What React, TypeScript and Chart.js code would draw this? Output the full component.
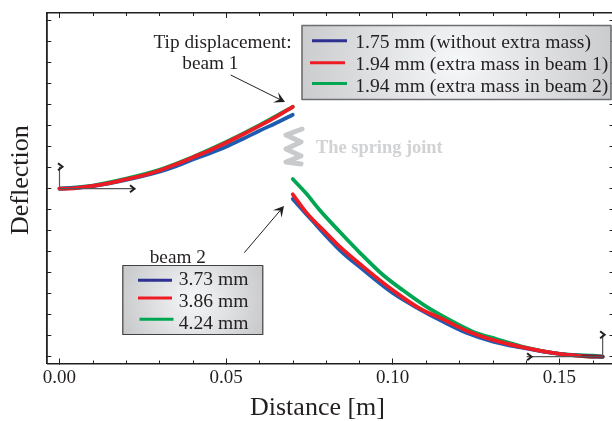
import React, { useEffect, useRef } from "react";
import { Chart, registerables } from "chart.js";

Chart.register(...registerables);

// Distance [m] / deflection (axis tick units)
const beam1RedX = [0, 0.005, 0.01, 0.015, 0.02, 0.025, 0.03, 0.035, 0.04, 0.045, 0.05, 0.055, 0.06, 0.065, 0.07];
const beam1RedY = [0, 0.03, 0.13, 0.27, 0.45, 0.63, 0.87, 1.16, 1.49, 1.82, 2.19, 2.58, 2.99, 3.42, 3.9];
const beam1BlueX = [0, 0.01, 0.02, 0.03, 0.035, 0.04, 0.045, 0.05, 0.055, 0.06, 0.065, 0.07];
const beam1BlueY = [0, 0.12, 0.42, 0.81, 1.07, 1.39, 1.68, 2.0, 2.37, 2.76, 3.13, 3.52];
const beam1GreenX = [0, 0.01, 0.02, 0.03, 0.04, 0.05, 0.06, 0.07];
const beam1GreenY = [0, 0.15, 0.48, 0.9, 1.51, 2.22, 3.02, 3.9];

const beam2BlueX = [0.07, 0.0752, 0.0841, 0.0906, 0.1001, 0.1081, 0.1151, 0.1221, 0.1301, 0.1381, 0.1501, 0.1601, 0.163];
const beam2BlueY = [-0.49, -1.41, -2.92, -3.79, -4.98, -5.74, -6.33, -6.86, -7.28, -7.55, -7.87, -7.99, -8.0];
const beam2RedX = [0.07, 0.0741, 0.0801, 0.0841, 0.0911, 0.1006, 0.1081, 0.1151, 0.1221, 0.1311, 0.1381, 0.1501, 0.157, 0.1601, 0.163];
const beam2RedY = [-0.27, -1.14, -2.12, -2.76, -3.71, -4.9, -5.7, -6.22, -6.76, -7.25, -7.52, -7.87, -7.97, -8.0, -8.0];
const beam2GreenX = [0.07, 0.074, 0.078, 0.0841, 0.0901, 0.0971, 0.1031, 0.1101, 0.1161, 0.1241, 0.1311, 0.1401, 0.1501, 0.1601, 0.163];
const beam2GreenY = [0.46, -0.22, -1.0, -2.05, -3.04, -4.11, -4.84, -5.62, -6.17, -6.81, -7.16, -7.57, -7.87, -7.95, -8.0];

const xMajorTicks = [0, 0.05, 0.1, 0.15];
const xMinorTicks = [0.01, 0.02, 0.03, 0.04, 0.06, 0.07, 0.08, 0.09, 0.11, 0.12, 0.13, 0.14, 0.16];
const yTicks = [-8, -7, -6, -5, -4, -3, -2, -1, 0, 1, 2, 3, 4, 5, 6, 7, 8];

const xTitle = "Distance [m]";
const yTitle = "Deflection";
const beam1Legend = ["1.75 mm (without extra mass)", "1.94 mm (extra mass in beam 1)", "1.94 mm (extra mass in beam 2)"];
const beam2Legend = ["3.73 mm", "3.86 mm", "4.24 mm"];

const INK = "#231f20";
const NAVY = "#2e3192";
const CURVE_BLUE = "#1e5cb0";
const RED = "#ed1c24";
const GREEN = "#00a651";
const SERIF = '"Liberation Serif"';

const zip = (xs: number[], ys: number[]) => xs.map((x, i) => ({ x, y: ys[i] }));

function text(ctx: any, s: string, x: number, y: number, size: number, color = INK, weight = "") {
  ctx.font = `${weight} ${size}px ${SERIF}`;
  ctx.fillStyle = color;
  ctx.textAlign = "left";
  ctx.textBaseline = "alphabetic";
  ctx.fillText(s, x, y);
}

function stealthArrow(ctx: any, x0: number, y0: number, x1: number, y1: number) {
  const a = Math.atan2(y1 - y0, x1 - x0);
  ctx.strokeStyle = INK;
  ctx.fillStyle = INK;
  ctx.lineWidth = 1;
  ctx.beginPath();
  ctx.moveTo(x0, y0);
  ctx.lineTo(x1 - 5 * Math.cos(a), y1 - 5 * Math.sin(a));
  ctx.stroke();
  const pt = (r: number, t: number) => [x1 - r * Math.cos(a + t), y1 - r * Math.sin(a + t)];
  const [ax, ay] = pt(12, 0.5);
  const [bx, by] = pt(6, 0);
  const [cx, cy] = pt(12, -0.5);
  ctx.beginPath();
  ctx.moveTo(x1, y1);
  ctx.lineTo(ax, ay);
  ctx.lineTo(bx, by);
  ctx.lineTo(cx, cy);
  ctx.closePath();
  ctx.fill();
}

function frameAxis(ctx: any, x0: number, y0: number, x1: number, y1: number, chevX: number, chevY: number) {
  ctx.strokeStyle = "#55565a";
  ctx.lineWidth = 1.2;
  ctx.beginPath();
  ctx.moveTo(x0, y0);
  ctx.lineTo(x1, y1);
  ctx.stroke();
  ctx.strokeStyle = "#231f20";
  ctx.lineWidth = 2;
  ctx.beginPath();
  ctx.moveTo(chevX - 4.5, chevY - 3.5);
  ctx.lineTo(chevX, chevY);
  ctx.lineTo(chevX - 4.5, chevY + 3.5);
  ctx.stroke();
}

function legendBox(ctx: any, x: number, y: number, w: number, h: number, border: string, lw: number) {
  const g = ctx.createRadialGradient(x + w / 2, y + h / 2, 0, x + w / 2, y + h / 2, w * 0.55);
  g.addColorStop(0, "#f6f7f8");
  g.addColorStop(1, "#c6c8ca");
  ctx.fillStyle = g;
  ctx.fillRect(x, y, w, h);
  ctx.strokeStyle = border;
  ctx.lineWidth = lw;
  ctx.strokeRect(x, y, w, h);
}

function sample(ctx: any, x0: number, x1: number, y: number, color: string) {
  ctx.strokeStyle = color;
  ctx.lineWidth = 3;
  ctx.beginPath();
  ctx.moveTo(x0, y);
  ctx.lineTo(x1, y);
  ctx.stroke();
}

const overlayPlugin = {
  id: "figureOverlay",
  afterDatasetsDraw(chart: any) {
    const { ctx, scales, chartArea } = chart;
    const sx = scales.x;
    const sy = scales.y;
    ctx.save();

    // minor ticks on the top and bottom axes
    ctx.strokeStyle = INK;
    ctx.lineWidth = 1;
    xMinorTicks.forEach((v) => {
      const p = Math.round(sx.getPixelForValue(v)) + 0.5;
      ctx.beginPath();
      ctx.moveTo(p, chartArea.bottom);
      ctx.lineTo(p, chartArea.bottom - 3);
      ctx.moveTo(p, chartArea.top);
      ctx.lineTo(p, chartArea.top + 3);
      ctx.stroke();
    });

    // local beam frames
    const ox = sx.getPixelForValue(0);
    const oy = sy.getPixelForValue(0);
    frameAxis(ctx, ox, oy, ox + 74, oy, ox + 75, oy);
    frameAxis(ctx, ox, oy, ox, oy - 22, ox + 3, oy - 22);
    const ex = sx.getPixelForValue(0.163);
    const ey = sy.getPixelForValue(-8);
    frameAxis(ctx, ex, ey, ex - 76, ey, ex - 71, ey);
    frameAxis(ctx, ex, ey, ex, ey - 22, ex + 2, ey - 22);

    // spring
    ctx.strokeStyle = "#c9cacc";
    ctx.lineWidth = 5;
    ctx.lineJoin = "round";
    ctx.lineCap = "round";
    ctx.beginPath();
    [[302, 129], [286, 135], [301, 142], [286, 149], [301, 156], [286, 162], [301, 164]].forEach(([x, y], i) =>
      i ? ctx.lineTo(x, y) : ctx.moveTo(x, y));
    ctx.stroke();
    ctx.lineCap = "butt";
    text(ctx, "The spring joint", 316, 152.5, 18.4, "#d1d2d4", "bold");

    // callouts
    text(ctx, "Tip displacement:", 153.5, 47.7, 19.3);
    text(ctx, "beam 1", 182.3, 69, 19.3);
    stealthArrow(ctx, 230.7, 75, 285, 102);
    text(ctx, "beam 2", 149.7, 263.3, 19.3);
    stealthArrow(ctx, 244.3, 252.7, 284, 206);

    // legend of beam 1
    legendBox(ctx, 302, 25.5, 309, 74, "#6d6e71", 1.6);
    sample(ctx, 312, 347, 40.7, NAVY);
    sample(ctx, 310, 345, 62.7, RED);
    sample(ctx, 312, 347, 83.5, GREEN);
    beam1Legend.forEach((s, i) => text(ctx, s, 355.3, 47.7 + i * 22, 19.6));

    // legend of beam 2
    legendBox(ctx, 122.8, 265.5, 140, 69, "#414042", 1.2);
    sample(ctx, 138, 172, 280.3, NAVY);
    sample(ctx, 138, 172, 298, RED);
    sample(ctx, 139.5, 173.5, 319.3, GREEN);
    beam2Legend.forEach((s, i) => text(ctx, s, 178.7, 285.3 + i * 21.7, 19.6));

    // axis titles
    text(ctx, xTitle, 250, 415, 26);
    ctx.save();
    ctx.translate(28, 235);
    ctx.rotate(-Math.PI / 2);
    text(ctx, yTitle, 0, 0, 26);
    ctx.restore();

    ctx.restore();
  },
};

const setTicks = (values: number[]) => (scale: any) => {
  scale.ticks = values.map((value) => ({ value }));
};

export default function App() {
  const ref = useRef<HTMLCanvasElement>(null);

  useEffect(() => {
    const line = (label: string, data: any[], color: string, extra: any = {}) => ({
      label,
      data,
      borderColor: color,
      backgroundColor: color,
      borderWidth: 3.8,
      borderCapStyle: "round",
      borderJoinStyle: "round",
      pointRadius: 0,
      cubicInterpolationMode: "monotone",
      fill: false,
      ...extra,
    });

    const chart = new Chart(ref.current as HTMLCanvasElement, {
      type: "line",
      data: {
        datasets: [
          line("beam 1, 1.94 mm (extra mass in beam 1)", zip(beam1RedX, beam1RedY), RED),
          line("beam 2, 3.86 mm", zip(beam2RedX, beam2RedY), RED, {
            segment: {
              borderColor: (c: any) => (c.p0.parsed.x >= 0.157 ? "#8e1b20" : undefined),
            },
          }),
          line("beam 1, 1.75 mm (without extra mass)", zip(beam1BlueX, beam1BlueY), CURVE_BLUE),
          line("beam 2, 3.73 mm", zip(beam2BlueX, beam2BlueY), CURVE_BLUE),
          line("beam 1, 1.94 mm (extra mass in beam 2)", zip(beam1GreenX, beam1GreenY), GREEN),
          line("beam 2, 4.24 mm", zip(beam2GreenX, beam2GreenY), GREEN),
        ],
      },
      options: {
        animation: false,
        responsive: false,
        devicePixelRatio: 1,
        layout: { padding: { top: 13, left: 0, right: 0, bottom: 0 } },
        plugins: { legend: { display: false }, tooltip: { enabled: false }, title: { display: false } },
        scales: {
          x: {
            type: "linear",
            position: "bottom",
            min: -0.00366,
            max: 0.16581,
            afterBuildTicks: setTicks(xMajorTicks),
            afterFit: (s: any) => { s.height = 57.5; },
            border: { color: INK, width: 1.6 },
            grid: { drawOnChartArea: false, tickLength: -5, tickColor: INK, tickWidth: 1 },
            ticks: {
              color: INK,
              font: { family: SERIF, size: 19 },
              padding: 8,
              maxRotation: 0,
              autoSkip: false,
              callback: (v: any) => Number(v).toFixed(2),
            },
          },
          xTop: {
            type: "linear",
            position: "top",
            axis: "x",
            min: -0.00366,
            max: 0.16581,
            afterBuildTicks: setTicks(xMajorTicks),
            afterFit: (s: any) => { s.height = 0; },
            border: { color: INK, width: 1.6 },
            grid: { drawOnChartArea: false, tickLength: -5, tickColor: INK, tickWidth: 1 },
            ticks: { display: false },
          },
          y: {
            type: "linear",
            position: "left",
            min: -8.324,
            max: 8.367,
            afterBuildTicks: setTicks(yTicks),
            afterFit: (s: any) => { s.width = 47.3; },
            border: { color: INK, width: 1.8 },
            grid: { drawOnChartArea: false, tickLength: -4, tickColor: INK, tickWidth: 1 },
            ticks: { display: false },
          },
          yRight: {
            type: "linear",
            position: "right",
            axis: "y",
            min: -8.324,
            max: 8.367,
            afterBuildTicks: setTicks(yTicks),
            afterFit: (s: any) => { s.width = 0; },
            border: { display: false },
            grid: { drawOnChartArea: false, tickLength: -2.5, tickColor: INK, tickWidth: 1 },
            ticks: { display: false },
          },
        },
      } as any,
      plugins: [overlayPlugin],
    } as any);

    return () => chart.destroy();
  }, []);

  return (
    <div style={{ position: "absolute", left: 0, top: 0, width: 612, height: 421, background: "#fff" }}>
      <canvas ref={ref} width={612} height={421} style={{ display: "block" }} />
    </div>
  );
}
